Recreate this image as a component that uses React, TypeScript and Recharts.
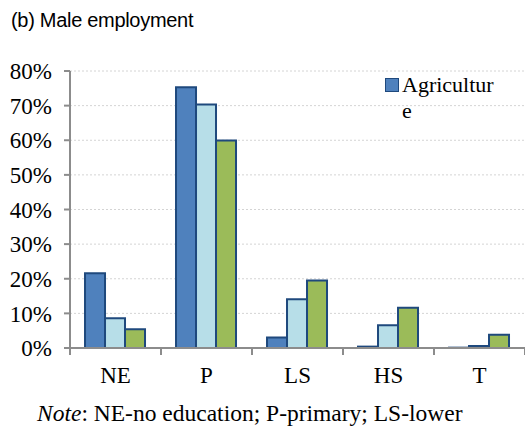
import React from 'react';
import { BarChart, Bar, XAxis, YAxis, CartesianGrid, Legend } from 'recharts';

const categories = ['NE', 'P', 'LS', 'HS', 'T'];
const seriesNames = ['Agriculture', 'Manufacturing', 'Services'];
const agriculture = [21.6, 75.3, 3.0, 0.4, 0.1];
const manufacturing = [8.6, 70.3, 14.1, 6.6, 0.6];
const services = [5.4, 59.9, 19.5, 11.6, 3.8];
const yTicks = [0, 10, 20, 30, 40, 50, 60, 70, 80];

const data = categories.map((c, i) => ({
  cat: c,
  a: agriculture[i],
  m: manufacturing[i],
  s: services[i],
}));

const BORDER = '#1F497D';
const AXIS = '#8C8C8C';
const SERIF = '"Liberation Serif", "Times New Roman", serif';

const renderLegend = (props: any) => {
  const p = (props.payload || [])[0];
  if (!p) return null;
  return (
    <div style={{ display: 'flex', alignItems: 'flex-start', fontFamily: SERIF, fontSize: 22, color: '#000', lineHeight: '26px' }}>
      <div style={{ width: 12, height: 12, background: p.color, border: `1.5px solid ${BORDER}`, marginTop: 6, marginRight: 3, flex: 'none' }} />
      <div style={{ width: 93, wordBreak: 'break-all' }}>{p.value}</div>
    </div>
  );
};

const CategoryTick = (props: any) => {
  const { x, y, payload, index, visibleTicksCount } = props;
  const half = payload && payload.offset ? payload.offset : 0;
  const axisY = y - 19;
  const isLast = index === (visibleTicksCount ?? categories.length) - 1;
  return (
    <g>
      <line x1={x - half} x2={x - half} y1={axisY} y2={axisY + 7} stroke={AXIS} strokeWidth={2} />
      {isLast && <line x1={x + half} x2={x + half} y1={axisY} y2={axisY + 7} stroke={AXIS} strokeWidth={2} />}
      <text x={x} y={y} dy="0.71em" textAnchor="middle" fontFamily={SERIF} fontSize={23} fill="#000">
        {payload.value}
      </text>
    </g>
  );
};

export default function App() {
  return (
    <div style={{ position: 'absolute', left: 0, top: 0, width: 525, height: 434, background: '#fff' }}>
      <div style={{ position: 'absolute', left: 11, top: 9, fontFamily: '"Liberation Sans", Arial, sans-serif', fontSize: 20, color: '#000', whiteSpace: 'nowrap', letterSpacing: -0.3 }}>
        (b) Male employment
      </div>
      <BarChart
        width={525}
        height={434}
        data={data}
        margin={{ top: 71, right: 0, left: 0, bottom: 46 }}
        barCategoryGap="16.5%"
        barGap={0}
      >
        <CartesianGrid vertical={false} stroke="#D4D4D4" strokeDasharray="2 2" />
        <XAxis
          dataKey="cat"
          height={40}
          tickLine={false}
          axisLine={{ stroke: AXIS, strokeWidth: 2 }}
          tickSize={6}
          tickMargin={13}
          tick={CategoryTick}
        />
        <YAxis
          width={70}
          domain={[0, 80]}
          ticks={yTicks}
          tickFormatter={(v: number) => `${v}%`}
          tickSize={6}
          tickMargin={12}
          tickLine={{ stroke: AXIS, strokeWidth: 2 }}
          axisLine={{ stroke: AXIS, strokeWidth: 2 }}
          tick={{ fontFamily: SERIF, fontSize: 23, fill: '#000' }}
        />
        <Legend
          layout="vertical"
          align="center"
          verticalAlign="middle"
          content={renderLegend}
          wrapperStyle={{ position: 'absolute', left: 385, top: 72, width: 130 }}
        />
        <Bar dataKey="a" name={seriesNames[0]} fill="#4F81BD" stroke={BORDER} strokeWidth={2} isAnimationActive={false} />
        <Bar dataKey="m" name={seriesNames[1]} fill="#B7DEE8" stroke={BORDER} strokeWidth={2} isAnimationActive={false} />
        <Bar dataKey="s" name={seriesNames[2]} fill="#9BBB59" stroke={BORDER} strokeWidth={2} isAnimationActive={false} />
      </BarChart>
      <div style={{ position: 'absolute', left: 37, top: 400, fontFamily: SERIF, fontSize: 23.5, color: '#000', whiteSpace: 'nowrap' }}>
        <i>Note</i>: NE-no education; P-primary; LS-lower
      </div>
    </div>
  );
}
